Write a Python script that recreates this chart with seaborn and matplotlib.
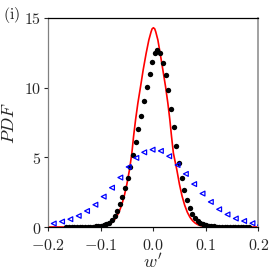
import matplotlib
matplotlib.use("Agg")
import matplotlib.pyplot as plt
import seaborn as sns
import pandas as pd

# ---- data ----
red_x = [-0.2, -0.13, -0.11, -0.1, -0.095, -0.09, -0.085, -0.08, -0.075, -0.07, -0.065,
         -0.06, -0.055, -0.05, -0.045, -0.0405, -0.0373, -0.0335, -0.0291, -0.024, -0.019,
         -0.0133, -0.0082, -0.004, -0.002, 0.0005, 0.003, 0.005, 0.009, 0.0133, 0.0185,
         0.0236, 0.028, 0.0318, 0.035, 0.0385, 0.045, 0.05, 0.055, 0.06, 0.065, 0.07,
         0.075, 0.08, 0.085, 0.09, 0.095, 0.1, 0.11, 0.13, 0.2]
red_y = [0, 0, 0.01, 0.03, 0.055, 0.10, 0.17, 0.28, 0.45, 0.70, 1.06,
         1.56, 2.22, 3.07, 4.11, 5.3, 6.48, 7.68, 8.88, 10.07, 11.27,
         12.47, 13.42, 14.0, 14.22, 14.3, 14.22, 14.0, 13.42, 12.47, 11.27,
         10.07, 8.88, 7.68, 6.48, 5.3, 4.11, 3.07, 2.22, 1.56, 1.06, 0.70,
         0.45, 0.28, 0.17, 0.10, 0.055, 0.03, 0.01, 0, 0]

dot_x = [-0.1649, -0.1598, -0.1547, -0.1497, -0.1446, -0.1395, -0.1345, -0.1294, -0.1243,
         -0.1193, -0.1142, -0.1091, -0.1040, -0.0990, -0.0939, -0.0888, -0.0838, -0.0787,
         -0.0735, -0.0686, -0.0634, -0.0583, -0.0533, -0.0482, -0.0431, -0.0381, -0.0330,
         -0.0279, -0.0229, -0.0177, -0.0123, -0.0069, -0.0019, 0.0032, 0.0082, 0.0135,
         0.0186, 0.0236, 0.0286, 0.0337, 0.0389, 0.0439, 0.0492, 0.0543, 0.0594, 0.0646,
         0.0697, 0.0748, 0.0799, 0.0850, 0.0900, 0.0951, 0.1002, 0.1053, 0.1104, 0.1155,
         0.1206, 0.1257, 0.1308, 0.1359, 0.1410, 0.1461, 0.1511, 0.1562, 0.1613, 0.1664,
         0.1714, 0.1765, 0.1816]
dot_y = [0.0, 0.0, 0.0, 0.0, 0.0, 0.005, 0.005, 0.01, 0.01,
         0.02, 0.03, 0.04, 0.06, 0.09, 0.12, 0.18, 0.32, 0.52,
         0.80, 1.16, 1.62, 2.15, 2.79, 3.51, 4.31, 5.15, 6.09,
         7.03, 8.00, 9.02, 10.06, 11.0, 11.87, 12.51, 12.68, 12.51,
         11.76, 10.91, 9.81, 8.48, 7.18, 5.84, 4.62, 3.50, 2.68, 1.94,
         1.39, 0.95, 0.66, 0.44, 0.29, 0.19, 0.12, 0.08, 0.05, 0.04,
         0.03, 0.02, 0.01, 0.01, 0.005, 0.005, 0.0, 0.0, 0.0, 0.0,
         0.0, 0.0, 0.0]

tri_x = [-0.1891, -0.1733, -0.1575, -0.1416, -0.1258, -0.1099, -0.0941, -0.0783, -0.0624,
         -0.0466, -0.0320, -0.0170, -0.0011, 0.0147, 0.0305, 0.0464, 0.0622, 0.0780,
         0.0939, 0.1097, 0.1255, 0.1414, 0.1572, 0.1730, 0.1889, 0.2030]
tri_y = [0.25, 0.39, 0.56, 0.80, 1.15, 1.60, 2.18, 2.82, 3.55,
         4.31, 4.96, 5.36, 5.55, 5.46, 5.08, 4.45, 3.81, 3.08,
         2.40, 1.80, 1.27, 0.90, 0.61, 0.43, 0.27, 0.13]

x_ticks = [-0.2, -0.1, 0.0, 0.1, 0.2]
x_tick_labels = ["$-0.2$", "$-0.1$", "$0.0$", "$0.1$", "$0.2$"]
y_ticks = [0, 5, 10, 15]
y_tick_labels = ["$0$", "$5$", "$10$", "$15$"]

# ---- figure ----
sns.set_style("ticks")
plt.rcParams["mathtext.fontset"] = "cm"
plt.rcParams["font.family"] = ["DejaVu Serif"]

fig = plt.figure(figsize=(2.75, 2.74), dpi=100)
ax = fig.add_axes([48 / 275, 1 - 227 / 274, (258.3 - 48) / 275, (227 - 18) / 274])

red_df = pd.DataFrame({"x": red_x, "y": red_y})
dot_df = pd.DataFrame({"x": dot_x, "y": dot_y})
tri_df = pd.DataFrame({"x": tri_x, "y": tri_y})

sns.lineplot(data=red_df, x="x", y="y", color="red", linewidth=1.2, sort=False,
             estimator=None, ax=ax, zorder=2)
sns.scatterplot(data=dot_df, x="x", y="y", color="black", s=15, linewidth=0,
                marker="o", ax=ax, zorder=3)
sns.scatterplot(data=tri_df, x="x", y="y", marker="<", s=12, ax=ax, zorder=4)
tri_coll = ax.collections[-1]
tri_coll.set_facecolor("none")
tri_coll.set_edgecolor("blue")
tri_coll.set_linewidth(0.9)

ax.set_xlim(-0.2, 0.2)
ax.set_ylim(0, 15)
ax.set_xticks(x_ticks)
ax.set_xticklabels(x_tick_labels)
ax.set_yticks(y_ticks)
ax.set_yticklabels(y_tick_labels)
ax.tick_params(axis="both", direction="out", length=3, width=0.8, labelsize=11.5)
ax.tick_params(axis="x", pad=4)
ax.tick_params(axis="y", pad=2)

for side in ["top", "bottom"]:
    ax.spines[side].set_visible(True)
    ax.spines[side].set_color("black")
    ax.spines[side].set_linewidth(0.9)
ax.spines["left"].set_color("#808080")
ax.spines["left"].set_linewidth(0.9)
ax.spines["right"].set_visible(True)
ax.spines["right"].set_color("#9a9a9a")
ax.spines["right"].set_linewidth(1.3)

ax.set_xlabel("$w'$", fontsize=13, labelpad=-1)
ax.set_ylabel("$PDF$", fontsize=13, labelpad=4)
fig.text(3 / 275, 1 - 15 / 274, "$\\mathrm{(i)}$", fontsize=11.5, ha="left", va="center")

fig.savefig("out.png", dpi=100)
